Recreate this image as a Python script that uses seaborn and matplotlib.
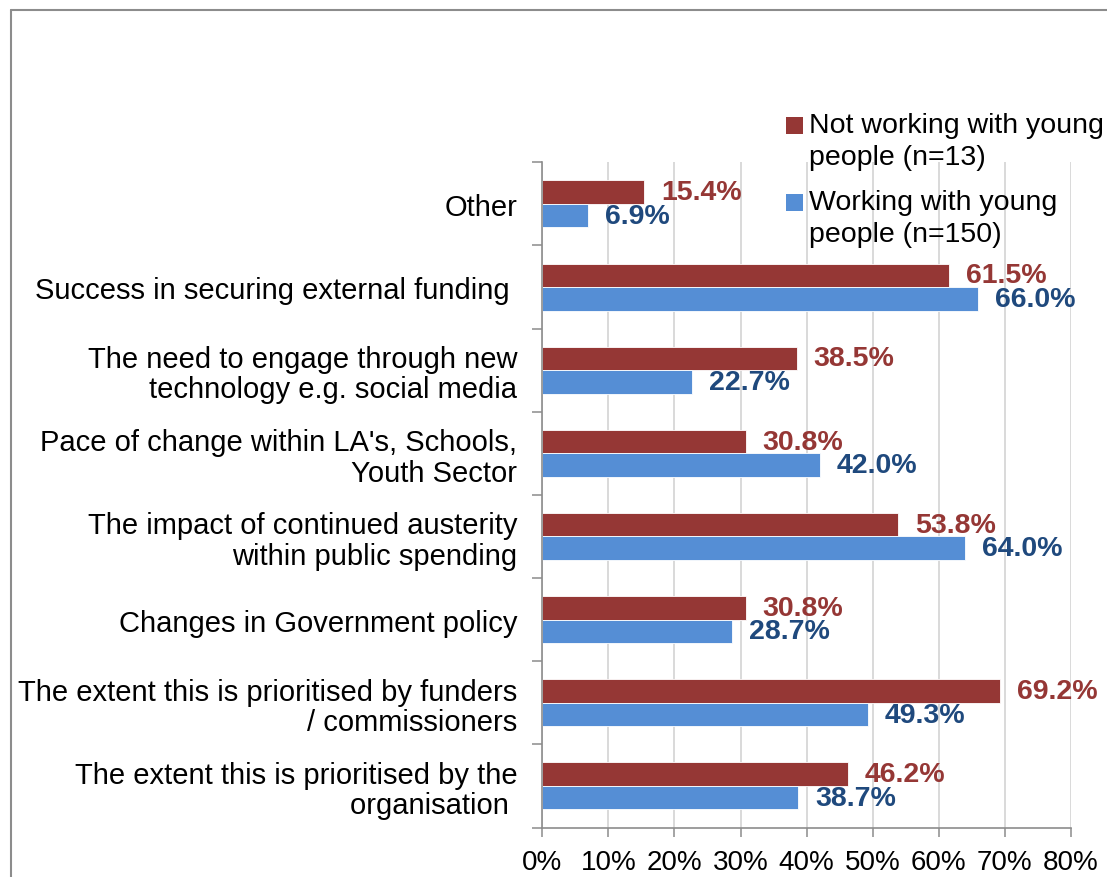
import matplotlib
matplotlib.use("Agg")
import matplotlib.pyplot as plt
from matplotlib.lines import Line2D
from matplotlib.patches import Rectangle
from matplotlib.ticker import FixedLocator, FuncFormatter
import numpy as np
import pandas as pd
import seaborn as sns

# Survey data: share of respondents naming each factor
categories = [
    "Other",
    "Success in securing external funding ",
    "The need to engage through new\ntechnology e.g. social media",
    "Pace of change within LA's, Schools,\nYouth Sector",
    "The impact of continued austerity\nwithin public spending",
    "Changes in Government policy",
    "The extent this is prioritised by funders\n/ commissioners",
    "The extent this is prioritised by the\norganisation ",
]
not_working = [15.4, 61.5, 38.5, 30.8, 53.8, 30.8, 69.2, 46.2]
working = [6.9, 66.0, 22.7, 42.0, 64.0, 28.7, 49.3, 38.7]
series_names = ["Not working with young\npeople (n=13)", "Working with young\npeople (n=150)"]
x_ticks = [0, 10, 20, 30, 40, 50, 60, 70, 80]

bar_colors = ["#953735", "#558ED5"]
label_colors = ["#953735", "#1F497D"]

df = pd.DataFrame({
    "category": categories * 2,
    "value": not_working + working,
    "group": [series_names[0]] * len(categories) + [series_names[1]] * len(categories),
})

sns.set_theme(style="white")
plt.rcParams["font.family"] = ["Liberation Sans", "DejaVu Sans"]

W, H = 1107, 878
fig = plt.figure(figsize=(W / 100, H / 100), dpi=100)
ax = fig.add_axes([542.3 / W, 1 - 828.5 / H, (1071 - 542.3) / W, (828.5 - 163.3) / H])

sns.barplot(
    data=df, y="category", x="value", hue="group", orient="h",
    order=categories, hue_order=series_names,
    palette=bar_colors, width=0.565, dodge=True, ax=ax, legend=False,
    saturation=1, edgecolor="white", linewidth=0.6,
)

# value labels at the end of each bar
for cont, col in zip(ax.containers, label_colors):
    ax.bar_label(cont, labels=[f"{b.get_width():.1f}%" for b in cont],
                 padding=12.2, color=col, fontsize=20.5, fontweight="bold")

ax.set_xlim(0, 80)
ax.set_ylim(len(categories) - 0.5, -0.5)
ax.xaxis.set_major_locator(FixedLocator(x_ticks))
ax.xaxis.set_major_formatter(FuncFormatter(lambda v, p: f"{v:.0f}%"))
ax.set_xlabel("")
ax.set_ylabel("")

ax.grid(axis="x", color="#D0D0D0", linewidth=1.1)
ax.grid(axis="y", visible=False)
ax.set_axisbelow(True)

for side in ["top", "right"]:
    ax.spines[side].set_visible(False)
for side in ["left", "bottom"]:
    ax.spines[side].set_color("#8C8C8C")
    ax.spines[side].set_linewidth(1.2)

ax.tick_params(axis="x", which="major", length=6.5, width=1.1, color="#8C8C8C",
               labelsize=20, labelcolor="black", pad=9, direction="out", bottom=True)
ax.tick_params(axis="y", which="major", length=0, labelsize=21, labelcolor="black", pad=18)
ax.yaxis.set_minor_locator(FixedLocator(np.arange(-0.5, len(categories), 1.0)))
ax.tick_params(axis="y", which="minor", length=7, width=1.1, color="#8C8C8C",
               direction="out", left=True)
for lab in ax.get_yticklabels():
    lab.set_horizontalalignment("right")
    lab.set_multialignment("right")
    lab.set_linespacing(1.1)

# legend drawn as square swatches with wrapped text
px = lambda x, y: (x / W, 1 - y / H)
for i, (name, col) in enumerate(zip(series_names, bar_colors)):
    y0 = 118 + i * 77
    fig.add_artist(Rectangle(px(786, y0 + 17), 17 / W, 17 / H, transform=fig.transFigure,
                             facecolor=col, edgecolor="none"))
    fig.text(*px(809, y0 - 5), name, fontsize=20.5, color="black", va="top",
             ha="left", linespacing=1.3, transform=fig.transFigure)

# outer chart frame
frame_kw = dict(color="#8C8C8C", linewidth=1.5, transform=fig.transFigure)
fig.add_artist(Line2D([10.5 / W, 10.5 / W], [1 - 10.5 / H, -0.1], **frame_kw))
fig.add_artist(Line2D([10.5 / W, 1.1], [1 - 10.5 / H, 1 - 10.5 / H], **frame_kw))

fig.savefig("out.png", dpi=100, facecolor="white")
